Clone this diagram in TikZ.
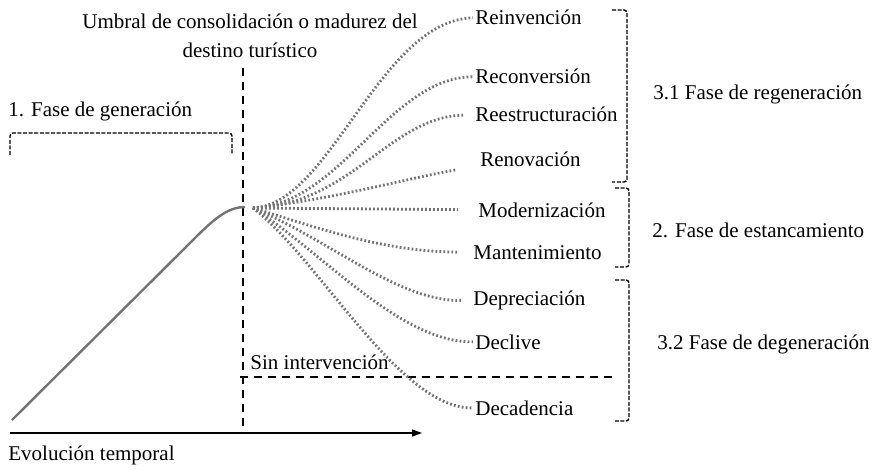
\documentclass[tikz,border=0pt]{standalone}
\usepackage{fontspec}
\setmainfont{LiberationSerif}[Extension=.ttf, UprightFont=*-Regular, BoldFont=*-Bold]
\usetikzlibrary{arrows.meta}
\begin{document}
\begin{tikzpicture}[x=0.5pt, y=-0.5pt,
  every node/.style={font=\fontsize{10.5}{14.5}\selectfont, inner sep=0pt},
  lbl/.style={anchor=base west},
  fan/.style={black!55, line width=1.4pt, dash pattern=on 0.9pt off 1.1pt},
  brk/.style={line width=0.7pt, dash pattern=on 2pt off 0.8pt, rounded corners=1.5pt},
  lim/.style={line width=0.9pt, dash pattern=on 4pt off 3pt}]
  \useasboundingbox (0,0) rectangle (876,470);
  \node[anchor=north, align=center] (umbral) at (250,13.5) {Umbral de consolidación o madurez del\\destino turístico};
  \node[lbl] (gen) at (8,117) {1. Fase de generación};
  \node[lbl] (evol) at (8,460) {Evolución temporal};
  \node[lbl] (sinint) at (250,369) {Sin intervención};
  \node[lbl] (reinv) at (475,25) {Reinvención};
  \node[lbl] (recon) at (475,84) {Reconversión};
  \node[lbl] (reest) at (475,122) {Reestructuración};
  \node[lbl] (renov) at (480,167) {Renovación};
  \node[lbl] (moder) at (478,217) {Modernización};
  \node[lbl] (mant) at (473,259) {Mantenimiento};
  \node[lbl] (depre) at (473,305) {Depreciación};
  \node[lbl] (decl) at (475,349) {Declive};
  \node[lbl] (decad) at (475,415) {Decadencia};
  \node[lbl] (regen) at (653,100) {3.1 Fase de regeneración};
  \node[lbl] (estanc) at (652,237) {2. Fase de estancamiento};
  \node[lbl] (degen) at (657,349) {3.2 Fase de degeneración};
  \coordinate (orig) at (10,433);
  \coordinate (fin) at (422,433);
  \coordinate (utop) at (243,68);
  \coordinate (ubot) at (243,428);
  \coordinate (cero) at (12,420);
  \coordinate (pico) at (245,207);
  \coordinate (abanico) at (253,208);
  \coordinate (sinA) at (240,377);
  \coordinate (sinB) at (616,377);
  \draw[-{Triangle[length=5pt,width=3.5pt]}, line width=0.75pt] (orig) -- (fin);
  \draw[lim] (utop) -- (ubot);
  \draw[lim] (sinA) -- (sinB);
  \draw[black!55, line width=1.2pt] (cero) -- (185,248) .. controls (210,223) and (225,207) .. (pico);
  \draw[brk] (10,155) -- (10,133) -- (232,133) -- (232,155);
  \draw[brk] (612,10) -- (627,10) -- (627,182) -- (612,182);
  \draw[brk] (615,188) -- (629,188) -- (629,267) -- (615,267);
  \draw[brk] (615,280) -- (629,280) -- (629,421) -- (615,421);
  \draw[fan, shorten >=1pt] (abanico) .. controls (330,205) and (380,20) .. (reinv.west);
  \draw[fan, shorten >=1pt] (abanico) .. controls (340,205) and (390,77) .. (recon.west);
  \draw[fan, shorten >=6pt] (abanico) .. controls (350,205) and (390,117) .. (reest.west);
  \draw[fan] (abanico) .. controls (330,200) and (400,180) .. ([xshift=-12pt,yshift=-5pt]renov.west);
  \draw[fan, shorten >=10pt] (abanico) -- (moder.west);
  \draw[fan, shorten >=7pt] (abanico) .. controls (310,225) and (380,252) .. (mant.west);
  \draw[fan, shorten >=5pt] (abanico) .. controls (330,240) and (400,303) .. (depre.west);
  \draw[fan, shorten >=1pt] (abanico) .. controls (320,250) and (400,343) .. (decl.west);
  \draw[fan, shorten >=1pt] (abanico) .. controls (320,260) and (400,410) .. (decad.west);
\end{tikzpicture}
\end{document}
